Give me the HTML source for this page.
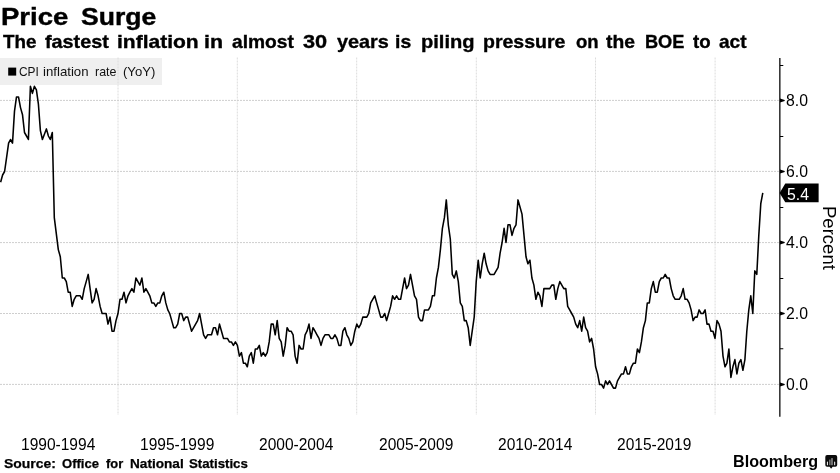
<!DOCTYPE html>
<html><head><meta charset="utf-8">
<style>
html,body{margin:0;padding:0;background:#fff;}
body{width:840px;height:473px;position:relative;overflow:hidden;will-change:transform;font-family:"Liberation Sans",sans-serif;color:#000;}
.t{position:absolute;white-space:nowrap;line-height:1;transform-origin:0 0;}
#legend{position:absolute;left:0;top:58px;width:162px;height:27px;background:#efefef;}
#legsq{position:absolute;left:8px;top:67.5px;width:8px;height:8px;background:#000;}
.g{position:absolute;left:0;width:840px;height:0;}
.g .t{top:0;}
.yl{font-size:16.3px;left:785.8px;transform:scaleX(0.97);}
.xl{font-size:16.3px;top:436.2px;transform:scaleX(0.954);}
#bb{left:732.8px;top:453.7px;font-size:16px;font-weight:bold;transform:scaleX(1.008);}
#pct{left:839.1px;top:205.5px;font-size:19px;transform:rotate(90deg) scaleX(0.975);}
svg{position:absolute;left:0;top:0;}
</style></head><body>
<svg width="840" height="473" viewBox="0 0 840 473">
<rect x="0" y="58" width="162" height="27" fill="#efefef"/>
<rect x="8.2" y="67.6" width="8" height="8" fill="#000"/>
<g stroke-width="1" stroke-dasharray="2,1" fill="none">
<path stroke="#dcdcdc" d="M118 57.5V415M237.3 57.5V415M356.7 57.5V415M476.3 57.5V415M595.5 57.5V415M715.1 57.5V415"/>
<path stroke="#cecece" d="M0 100.4H779M0 171.4H779M0 242.6H779M0 313.5H779M0 384.4H779"/>
</g>
<g stroke="#000" stroke-width="1.25" fill="none">
<path d="M779.85 58V416.7"/>
</g>
<g fill="#000" stroke="none">
<path d="M780 98.4L784.7 100.1V100.9L780 102.6ZM780 169.4L784.7 171.1V171.9L780 173.6ZM780 240.4L784.7 242.1V242.9L780 244.6ZM780 311.4L784.7 313.1V313.9L780 315.6ZM780 382.4L784.7 384.1V384.9L780 386.6Z"/>
<path d="M780 65H783.3V66H780ZM780 136H783.3V137H780ZM780 207H783.3V208H780ZM780 278H783.3V279H780ZM780 348.2H783.3V349.2H780Z"/>
</g>
<path d="M779.6 193L785.3 183.6H818.6V202.2H785.3Z" fill="#000"/>
<g>
<path d="M827.1 455.1H835.4Q837.2 455.1 837.2 456.9V465Q837.2 466.8 835.4 466.8H832.6L831.1 468.7L829.6 466.8H827.1Q825.3 466.8 825.3 465V456.9Q825.3 455.1 827.1 455.1Z" fill="#0a0a0a"/>
<rect x="826.9" y="461.4" width="1.1" height="3.8" rx="0.5" fill="#e8e8e8"/>
<rect x="829.2" y="459.6" width="1.3" height="5.6" fill="#8a8a8a"/>
<rect x="831.3" y="458.1" width="1.4" height="7.1" fill="#9a9a9a"/>
<rect x="834.1" y="461.4" width="1.1" height="3.8" rx="0.5" fill="#e8e8e8"/>
</g>
<path id="line" d="M0.6 182.2 L2.6 175.0 L4.6 171.5 L6.6 157.3 L8.6 143.1 L10.5 139.5 L12.5 143.1 L14.5 111.1 L16.5 96.9 L18.5 96.9 L20.5 107.6 L22.5 114.7 L24.5 132.5 L26.5 136.0 L28.4 139.5 L30.4 86.3 L32.4 93.4 L34.4 86.3 L36.4 89.8 L38.4 104.1 L40.4 130.7 L42.4 139.5 L44.4 134.2 L46.4 128.9 L48.4 136.0 L50.3 139.5 L52.3 132.5 L54.3 217.7 L56.3 233.6 L58.3 249.6 L60.3 256.7 L62.3 278.0 L64.3 278.0 L66.3 281.6 L68.2 292.2 L70.2 292.2 L72.2 306.4 L74.2 299.3 L76.2 295.8 L78.2 295.8 L80.2 295.8 L82.2 299.3 L84.2 288.6 L86.2 281.6 L88.2 274.4 L90.1 288.6 L92.1 302.9 L94.1 299.3 L96.1 288.6 L98.1 295.8 L100.1 306.4 L102.1 313.5 L104.1 313.5 L106.1 313.5 L108.0 324.1 L110.0 317.1 L112.0 331.2 L114.0 331.2 L116.0 320.6 L118.0 313.5 L120.0 299.3 L122.0 299.3 L124.0 292.2 L126.0 302.9 L128.0 295.8 L129.9 292.2 L131.9 288.6 L133.9 292.2 L135.9 278.0 L137.9 281.6 L139.9 285.1 L141.9 278.0 L143.9 292.2 L145.9 288.6 L147.8 292.2 L149.8 295.8 L151.8 302.9 L153.8 302.9 L155.8 306.4 L157.8 302.9 L159.8 302.9 L161.8 295.8 L163.8 292.2 L165.8 302.9 L167.8 309.9 L169.7 313.5 L171.7 320.6 L173.7 327.7 L175.7 327.7 L177.7 324.1 L179.7 313.5 L181.7 313.5 L183.7 320.6 L185.7 317.1 L187.7 317.1 L189.6 324.1 L191.6 331.2 L193.6 327.7 L195.6 324.1 L197.6 320.6 L199.6 313.5 L201.6 324.1 L203.6 334.8 L205.6 338.4 L207.6 334.8 L209.5 334.8 L211.5 334.8 L213.5 327.7 L215.5 327.7 L217.5 334.8 L219.5 324.1 L221.5 331.2 L223.5 338.4 L225.5 338.4 L227.4 338.4 L229.4 341.9 L231.4 341.9 L233.4 345.4 L235.4 341.9 L237.4 345.4 L239.4 356.1 L241.4 352.6 L243.4 363.2 L245.4 363.2 L247.3 366.8 L249.3 356.1 L251.3 352.6 L253.3 363.2 L255.3 349.0 L257.3 349.0 L259.3 345.4 L261.3 356.1 L263.3 352.6 L265.3 356.1 L267.2 352.6 L269.2 341.9 L271.2 324.1 L273.2 324.1 L275.2 334.8 L277.2 320.6 L279.2 338.4 L281.2 341.9 L283.2 356.1 L285.2 345.4 L287.1 327.7 L289.1 331.2 L291.1 331.2 L293.1 334.8 L295.1 356.1 L297.1 363.2 L299.1 345.4 L301.1 349.0 L303.1 349.0 L305.1 334.8 L307.0 331.2 L309.0 324.1 L311.0 338.4 L313.0 327.7 L315.0 331.2 L317.0 334.8 L319.0 338.4 L321.0 345.4 L323.0 338.4 L325.0 334.8 L326.9 334.8 L328.9 334.8 L330.9 338.4 L332.9 338.4 L334.9 334.8 L336.9 338.4 L338.9 345.4 L340.9 345.4 L342.9 331.2 L344.9 327.7 L346.8 334.8 L348.8 338.4 L350.8 345.4 L352.8 341.9 L354.8 331.2 L356.8 324.1 L358.8 327.7 L360.8 324.1 L362.8 317.1 L364.8 317.1 L366.8 317.1 L368.7 313.5 L370.7 302.9 L372.7 299.3 L374.7 295.8 L376.7 302.9 L378.7 309.9 L380.7 317.1 L382.7 317.1 L384.7 313.5 L386.6 320.6 L388.6 313.5 L390.6 306.4 L392.6 295.8 L394.6 299.3 L396.6 295.8 L398.6 299.3 L400.6 299.3 L402.6 288.6 L404.6 278.0 L406.5 288.6 L408.5 285.1 L410.5 274.4 L412.5 285.1 L414.5 295.8 L416.5 299.3 L418.5 317.1 L420.5 320.6 L422.5 320.6 L424.5 309.9 L426.4 309.9 L428.4 309.9 L430.4 306.4 L432.4 295.8 L434.4 295.8 L436.4 278.0 L438.4 267.4 L440.4 249.6 L442.4 228.3 L444.4 217.7 L446.3 199.9 L448.3 224.8 L450.3 239.0 L452.3 274.4 L454.3 278.0 L456.3 270.9 L458.3 281.6 L460.3 302.9 L462.3 306.4 L464.3 320.6 L466.2 320.6 L468.2 327.7 L470.2 345.4 L472.2 331.2 L474.2 317.1 L476.2 281.6 L478.2 260.2 L480.2 278.0 L482.2 263.8 L484.2 253.2 L486.1 263.8 L488.1 270.9 L490.1 274.4 L492.1 274.4 L494.1 274.4 L496.1 270.9 L498.1 267.4 L500.1 253.2 L502.1 242.5 L504.1 228.3 L506.0 242.5 L508.0 224.8 L510.0 224.8 L512.0 235.4 L514.0 228.3 L516.0 224.8 L518.0 199.9 L520.0 207.0 L522.0 214.1 L524.0 235.4 L526.0 256.7 L527.9 263.8 L529.9 260.2 L531.9 278.0 L533.9 285.1 L535.9 299.3 L537.9 292.2 L539.9 295.8 L541.9 306.4 L543.9 288.6 L545.9 288.6 L547.8 288.6 L549.8 288.6 L551.8 285.1 L553.8 285.1 L555.8 299.3 L557.8 288.6 L559.8 281.6 L561.8 285.1 L563.8 288.6 L565.8 288.6 L567.7 306.4 L569.7 309.9 L571.7 313.5 L573.7 317.1 L575.7 324.1 L577.7 327.7 L579.7 320.6 L581.7 331.2 L583.7 317.1 L585.6 327.7 L587.6 331.2 L589.6 341.9 L591.6 338.4 L593.6 349.0 L595.6 366.8 L597.6 373.9 L599.6 384.5 L601.6 384.5 L603.6 388.1 L605.6 380.9 L607.5 384.5 L609.5 380.9 L611.5 384.5 L613.5 388.1 L615.5 388.1 L617.5 380.9 L619.5 377.4 L621.5 373.9 L623.5 373.9 L625.5 366.8 L627.4 373.9 L629.4 373.9 L631.4 366.8 L633.4 363.2 L635.4 363.2 L637.4 349.0 L639.4 352.6 L641.4 341.9 L643.4 327.7 L645.4 320.6 L647.3 302.9 L649.3 302.9 L651.3 288.6 L653.3 281.6 L655.3 292.2 L657.3 292.2 L659.3 281.6 L661.3 278.0 L663.3 278.0 L665.2 274.4 L667.2 278.0 L669.2 278.0 L671.2 288.6 L673.2 295.8 L675.2 299.3 L677.2 299.3 L679.2 299.3 L681.2 295.8 L683.2 288.6 L685.1 299.3 L687.1 299.3 L689.1 302.9 L691.1 309.9 L693.1 320.6 L695.1 317.1 L697.1 317.1 L699.1 309.9 L701.1 313.5 L703.1 313.5 L705.1 309.9 L707.0 324.1 L709.0 324.1 L711.0 331.2 L713.0 331.2 L715.0 338.4 L717.0 320.6 L719.0 324.1 L721.0 331.2 L723.0 356.1 L725.0 366.8 L726.9 363.2 L728.9 349.0 L730.9 377.4 L732.9 366.8 L734.9 359.6 L736.9 373.9 L738.9 363.2 L740.9 359.6 L742.9 370.3 L744.9 359.6 L746.8 331.2 L748.8 309.9 L750.8 295.8 L752.8 313.5 L754.8 270.9 L756.8 274.4 L758.8 235.4 L760.8 203.5 L762.8 192.8" fill="none" stroke="#000" stroke-width="1.55" stroke-linejoin="round"/>
</svg>
<div id="title" class="g" style="top:5.4px;font-size:24px;font-weight:bold;-webkit-text-stroke:0.4px #000;"><span class="t" style="left:0.85px;transform:scaleX(1.1471)">Price</span><span class="t" style="left:81.0px;transform:scaleX(1.1069)">Surge</span></div>
<div id="sub" class="g" style="top:32.9px;font-size:18.2px;font-weight:bold;-webkit-text-stroke:0.35px #000;"><span class="t" style="left:2.5px;transform:scaleX(1.032)">The</span><span class="t" style="left:45.0px;transform:scaleX(1.0884)">fastest</span><span class="t" style="left:117.09px;transform:scaleX(1.1551)">inflation</span><span class="t" style="left:204.33px;transform:scaleX(1.1741)">in</span><span class="t" style="left:232.0px;transform:scaleX(1.0544)">almost</span><span class="t" style="left:303.0px;transform:scaleX(1.1931)">30</span><span class="t" style="left:337.0px;transform:scaleX(1.0912)">years</span><span class="t" style="left:395.18px;transform:scaleX(1.0674)">is</span><span class="t" style="left:421.39px;transform:scaleX(1.105)">piling</span><span class="t" style="left:483.43px;transform:scaleX(1.073)">pressure</span><span class="t" style="left:575.5px;transform:scaleX(1.0185)">on</span><span class="t" style="left:606.25px;transform:scaleX(1.0583)">the</span><span class="t" style="left:644.5px;transform:scaleX(0.9992)">BOE</span><span class="t" style="left:692.5px;transform:scaleX(1.026)">to</span><span class="t" style="left:719.25px;transform:scaleX(1.0484)">act</span></div>

<div id="legtx" class="g" style="top:65.9px;font-size:12.8px;color:#111;"><span class="t" style="left:19.2px;transform:scaleX(0.9289)">CPI</span><span class="t" style="left:43.1px;transform:scaleX(1.032)">inflation</span><span class="t" style="left:95.1px;transform:scaleX(0.9711)">rate</span><span class="t" style="left:122.9px;transform:scaleX(1.0232)">(YoY)</span></div>
<div class="t yl" style="top:91.8px">8.0</div>
<div class="t yl" style="top:162.8px">6.0</div>
<div class="t yl" style="top:234.0px">4.0</div>
<div class="t yl" style="top:304.9px">2.0</div>
<div class="t yl" style="top:375.8px">0.0</div>
<div class="t" id="cur" style="left:786.9px;top:185.6px;font-size:16.3px;color:#fff;transform:scaleX(0.97);">5.4</div>
<div class="t" id="pct">Percent</div>
<div class="t xl" style="left:20.6px">1990-1994</div>
<div class="t xl" style="left:139.6px">1995-1999</div>
<div class="t xl" style="left:259.1px">2000-2004</div>
<div class="t xl" style="left:378.6px">2005-2009</div>
<div class="t xl" style="left:497.9px">2010-2014</div>
<div class="t xl" style="left:617.2px">2015-2019</div>
<div id="src" class="g" style="top:458.2px;font-size:12.3px;font-weight:bold;-webkit-text-stroke:0.25px #000;"><span class="t" style="left:3.9px;transform:scaleX(1.1323)">Source:</span><span class="t" style="left:61.9px;transform:scaleX(1.0625)">Office</span><span class="t" style="left:106.0px;transform:scaleX(1.0478)">for</span><span class="t" style="left:130.0px;transform:scaleX(1.1062)">National</span><span class="t" style="left:189.2px;transform:scaleX(1.0759)">Statistics</span></div>
<div class="t" id="bb">Bloomberg</div>
</body></html>
